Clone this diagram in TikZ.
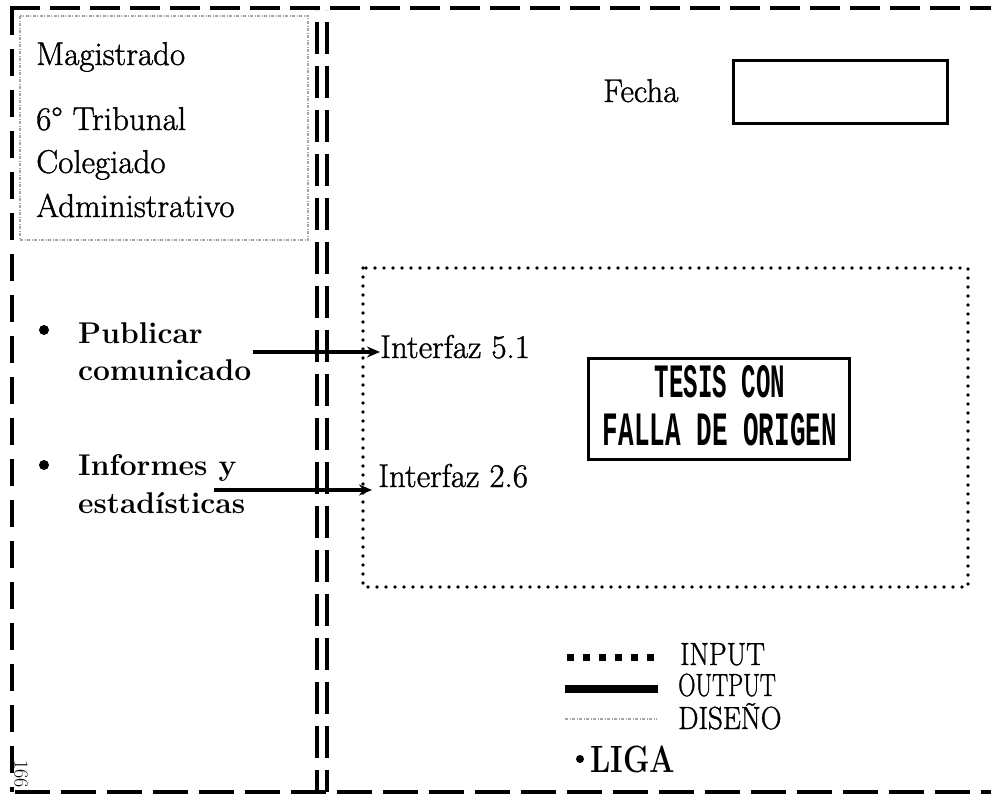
\documentclass[tikz,border=0pt]{standalone}
\usepackage{fontspec}
\newfontfamily\stampfont{Liberation Mono}
\newfontfamily\rmheavy{Latin Modern Roman}[UprightFeatures={FakeBold=1.2}]
\usetikzlibrary{arrows.meta}
\begin{document}
\begin{tikzpicture}[x=1pt,y=-1pt,
  txt/.style={inner sep=0pt, anchor=base west, font=\fontsize{33}{40}\rmheavy},
  btxt/.style={inner sep=0pt, anchor=base west, font=\fontsize{30}{36}\selectfont\bfseries},
  legtxt/.style={inner sep=0pt, anchor=base west, font=\fontsize{32}{36}\rmheavy},
  hborder/.style={line width=3.5pt, dash pattern=on 30pt off 10pt},
  vborder/.style={line width=3.2pt, dash pattern=on 27pt off 14pt},
  dborder/.style={line width=3.4pt, dash pattern=on 32pt off 12pt},
  diseno/.style={draw=gray!70, line width=1.2pt, dash pattern=on 3pt off 1.5pt on 1pt off 1.5pt},
  inputline/.style={line width=3.6pt, line cap=round, dash pattern=on 0pt off 9pt},
  boxline/.style={draw, line width=2.5pt},
  link/.style={line width=3.2pt, -{Stealth[length=13pt,width=11pt]}},
  dot/.style={circle, fill, inner sep=0pt, minimum size=#1}
]
\useasboundingbox (0,0) rectangle (991,798);
% outer frame
\draw[hborder] (10,8) -- (991,8);
\draw[hborder, dash pattern=on 35pt off 11pt] (15,792) -- (991,792);
\draw[vborder] (12,8) -- (12,792);
\draw[dborder, dash phase=-12pt] (317,10) -- (317,792);
\draw[dborder, dash phase=-12pt] (327,10) -- (327,792);
% Magistrado box
\draw[diseno] (20,16) rectangle (308,240);
\node[txt] (mag1) at (36,65) {Magistrado};
\node[txt] (mag2) at (36,130) {6° Tribunal};
\node[txt] (mag3) at (36,173) {Colegiado};
\node[txt] (mag4) at (36,217) {Administrativo};
% Fecha
\node[txt] (fecha) at (603,102) {Fecha};
\node[boxline, minimum width=214pt, minimum height=63pt, anchor=north west] (fbox) at (732,59) {};
% bullets
\node[dot=10pt] (b1) at (44,330) {};
\node[btxt] (pub1) at (78,343) {Publicar};
\node[btxt] (pub2) at (78,380) {comunicado};
\node[dot=10pt] (b2) at (44,465) {};
\node[btxt] (inf1) at (78,475) {Informes y};
\node[btxt] (inf2) at (78,513) {estadísticas};
% dotted interface area
\draw[inputline] (363,268) rectangle (968,587);
\node[txt] (int51) at (380,358) {Interfaz 5.1};
\node[txt] (int26) at (378,487) {Interfaz 2.6};
\coordinate (a1s) at (253,352);
\coordinate (a2s) at (214,490);
\draw[link] (a1s) -- (a1s -| int51.west);
\draw[link] (a2s) -- ([xshift=-6pt]a2s -| int26.west);
% stamp
\node[boxline, minimum width=261pt, minimum height=101pt, anchor=north west] (stamp) at (587,357) {};
\node[inner sep=0pt, anchor=base] (t1) at (720,397) {\stampfont\bfseries\resizebox{130pt}{32pt}{TESIS CON}};
\node[inner sep=0pt, anchor=base] (t2) at (720,445) {\stampfont\bfseries\resizebox{234pt}{32pt}{FALLA DE ORIGEN}};
% legend
\draw[line width=7pt, dash pattern=on 7pt off 9pt] (567,657) -- (655,657);
\node[legtxt] (lin) at (680,665) {\scalebox{0.88}[1]{INPUT}};
\draw[line width=8pt] (565,689) -- (658,689);
\node[legtxt] (lout) at (678,696) {\scalebox{0.75}[1]{OUTPUT}};
\draw[diseno] (565,719) -- (657,719);
\node[legtxt] (ldis) at (678,729) {\scalebox{0.9}[1]{DISEÑO}};
\node[dot=8pt] (ligadot) at (580,759) {};
\node[inner sep=0pt, anchor=base west, font=\fontsize{38}{40}\selectfont\bfseries] (liga) at (590,772) {\scalebox{0.79}[1]{LIGA}};
% page number
\node[inner sep=0pt, rotate=-90, font=\fontsize{20}{22}\selectfont] (pg) at (21,774) {166};
\end{tikzpicture}
\end{document}
